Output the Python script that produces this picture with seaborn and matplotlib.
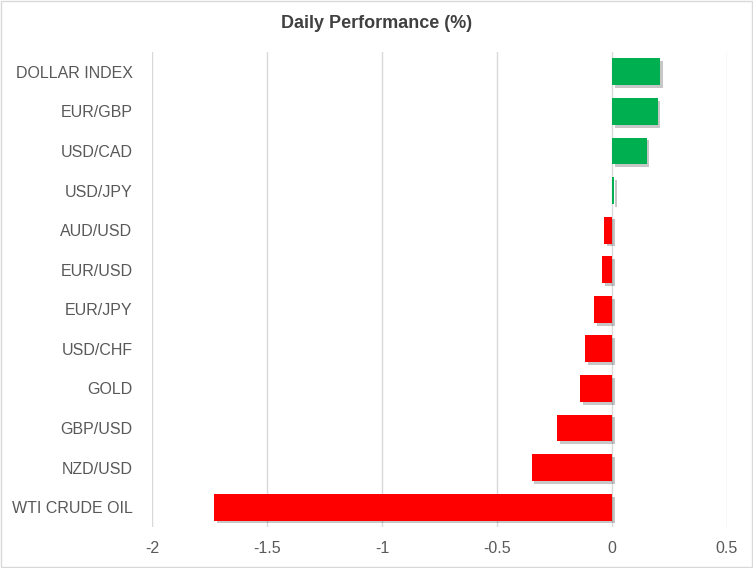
import pandas as pd
import matplotlib
matplotlib.use("Agg")
import matplotlib.pyplot as plt
import matplotlib.patheffects as pe
from matplotlib.patches import Rectangle
import seaborn as sns

# values
instruments = ["DOLLAR INDEX", "EUR/GBP", "USD/CAD", "USD/JPY", "AUD/USD", "EUR/USD",
               "EUR/JPY", "USD/CHF", "GOLD", "GBP/USD", "NZD/USD", "WTI CRUDE OIL"]
change_pct = [0.21, 0.198, 0.15, 0.01, -0.034, -0.042,
              -0.079, -0.118, -0.14, -0.24, -0.35, -1.73]
x_ticks = [-2, -1.5, -1, -0.5, 0, 0.5]
x_tick_labels = ["-2", "-1.5", "-1", "-0.5", "0", "0.5"]

GREEN = "#00B050"
RED = "#FF0000"
TEXT = "#595959"
GRID = "#D9D9D9"

sns.set_theme(style="white")
plt.rcParams["font.family"] = ["Liberation Sans", "DejaVu Sans"]

df = pd.DataFrame({"instrument": instruments, "change": change_pct})
palette = {k: (GREEN if v >= 0 else RED) for k, v in zip(instruments, change_pct)}

fig = plt.figure(figsize=(7.53, 5.68), dpi=100)
ax = fig.add_axes([152 / 753, 1 - 527 / 568, (727 - 152) / 753, (527 - 52) / 568])

sns.barplot(data=df, x="change", y="instrument", hue="instrument", palette=palette,
            legend=False, orient="h", width=0.68, saturation=1, linewidth=0,
            ax=ax, zorder=3)

# soft drop shadow like the Excel bars
for bar in ax.patches:
    bar.set_linewidth(0)
    bar.set_path_effects([pe.SimplePatchShadow(offset=(2, -2), alpha=0.22, shadow_rgbFace="#000000"),
                          pe.Normal()])

ax.set_xlim(-2, 0.5)
ax.set_ylim(11.5, -0.5)
ax.set_xticks(x_ticks)
ax.set_xticklabels(x_tick_labels)
ax.xaxis.grid(True, color=GRID, linewidth=1)
ax.set_axisbelow(True)
for s in ax.spines.values():
    s.set_visible(False)
ax.set_xlabel("")
ax.set_ylabel("")
ax.tick_params(axis="y", length=0, pad=14, labelsize=11.5, labelcolor=TEXT)
ax.tick_params(axis="x", length=0, pad=10, labelsize=11.5, labelcolor=TEXT)

fig.text(0.5, 1 - 23 / 568, "Daily Performance (%)", ha="center", va="center",
         fontsize=13, fontweight="bold", color="#404040")

fig.patches.append(Rectangle((0.001, 0.001), 0.998, 0.998, transform=fig.transFigure,
                             fill=False, edgecolor=GRID, linewidth=1))

fig.savefig("out.png", dpi=100)
